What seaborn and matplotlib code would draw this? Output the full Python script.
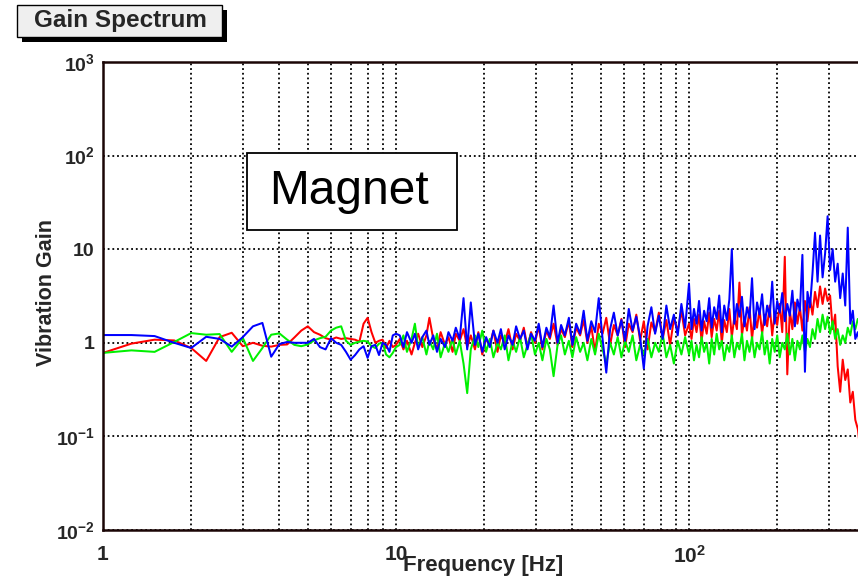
import matplotlib
matplotlib.use("Agg")
import matplotlib.pyplot as plt
import matplotlib.patches as mpatches
from matplotlib.ticker import FixedLocator, NullFormatter
import numpy as np
import pandas as pd
import seaborn as sns

# ---------------- data ----------------
freq_low = [1.0, 1.25, 1.5, 1.75, 2.0, 2.25, 2.5, 2.75, 3.0, 3.25, 3.5, 3.75, 4.0,
            4.25, 4.5, 4.75, 5.0, 5.25, 5.5, 5.75, 6.0, 6.25, 6.5, 6.75, 7.0, 7.25,
            7.5, 7.75, 8.0, 8.25, 8.5, 8.75, 9.0, 9.25, 9.5, 9.75, 10.0]
freq_mid = [10.3, 10.6, 10.9, 11.3, 11.6, 11.9, 12.3, 12.7, 13.0, 13.4,
            13.8, 14.2, 14.7, 15.1, 15.6, 16.0, 16.5, 17.0, 17.5, 18.0,
            18.6, 19.1, 19.7, 20.3, 20.9, 21.5, 22.2, 22.8, 23.5, 24.2,
            25.0, 25.7, 26.5, 27.3, 28.1, 28.9, 29.8, 30.7, 31.6, 32.6,
            33.5, 34.5, 35.6, 36.6, 37.7, 38.9, 40.0, 41.2, 42.5, 43.7,
            45.0, 46.4, 47.8, 49.2, 50.7, 52.2, 53.8, 55.4, 57.1, 58.8,
            60.5, 62.3, 64.2, 66.1, 68.1, 70.1, 72.2, 74.4, 76.6, 78.9,
            81.3, 83.7, 86.2, 88.8, 91.5, 94.2, 97.0]
freq_high = [100, 102, 104, 106.1, 108.2, 110.4, 112.6, 114.9, 117.2, 119.5,
             121.9, 124.3, 126.8, 129.4, 131.9, 134.6, 137.3, 140, 142.8, 145.7,
             148.6, 151.6, 154.6, 157.7, 160.9, 164.1, 167.4, 170.7, 174.1, 177.6,
             181.2, 184.8, 188.5, 192.3, 196.1, 200, 204, 208.1, 212.3, 216.5,
             220.8, 225.3, 229.8, 234.4, 239.1, 243.8, 248.7, 253.7, 258.7, 263.9,
             269.2, 274.6, 280.1, 285.7, 291.4, 297.2, 303.1, 309.2, 315.4, 321.7,
             328.1, 334.7, 341.4, 348.2, 355.2, 362.3, 369.5, 376.9, 384.5, 392.2]

red_low = [0.78, 0.98, 1.08, 1.06, 0.88, 0.64, 1.15, 1.28, 0.92, 1.00, 0.93, 0.91, 0.95,
           0.96, 1.14, 1.35, 1.50, 1.30, 1.22, 1.12, 1.08, 1.14, 1.10, 1.12, 1.10, 1.08,
           1.03, 1.60, 1.85, 1.30, 1.00, 1.05, 1.08, 0.88, 1.05, 0.90, 0.95]
red_mid = [1.10, 0.85, 1.05, 0.75, 1.00, 1.25, 0.90, 1.20, 1.85, 1.10,
           0.85, 1.30, 0.95, 1.15, 0.80, 1.25, 1.05, 1.40, 0.90, 1.20,
           0.85, 1.30, 0.75, 1.10, 0.95, 1.35, 0.80, 1.20, 1.00, 1.40,
           0.85, 1.25, 1.05, 1.45, 0.90, 1.30, 1.00, 1.50, 0.85, 1.35,
           1.10, 1.60, 0.95, 1.40, 1.15, 1.70, 0.90, 1.45, 1.20, 1.75,
           1.00, 1.50, 0.80, 1.60, 1.25, 1.85, 0.95, 1.55, 1.20, 1.80,
           0.90, 1.60, 1.30, 2.00, 1.05, 1.70, 0.85, 1.65, 1.30, 2.10,
           1.10, 1.75, 0.95, 1.80, 1.35, 2.20, 1.20]
red_high = [1.60, 1.10, 1.80, 1.30, 2.00, 1.05, 1.70, 1.25, 2.10, 1.15,
            1.80, 1.35, 2.20, 1.00, 1.75, 1.30, 2.30, 1.15, 1.90, 1.40,
            4.40, 1.20, 1.85, 1.35, 2.40, 1.10, 1.95, 1.45, 2.30, 1.25,
            2.00, 1.50, 2.50, 1.20, 2.10, 1.55, 2.60, 1.30, 8.30, 0.46,
            2.20, 1.40, 2.70, 1.60, 2.40, 1.35, 2.80, 1.70, 3.00, 2.00,
            3.50, 2.40, 4.00, 2.60, 3.80, 2.80, 3.20, 1.40, 2.00, 0.56,
            0.30, 0.66, 0.40, 0.52, 0.23, 0.30, 0.15, 0.12, 0.07, 0.05]

green_low = [0.78, 0.83, 0.80, 1.02, 1.27, 1.22, 1.24, 0.80, 1.13, 0.64, 0.88, 1.22, 1.26,
             1.08, 0.95, 0.92, 0.96, 1.06, 1.12, 1.16, 1.35, 1.45, 1.50, 1.05, 0.95, 1.00,
             1.03, 1.05, 1.03, 0.92, 0.88, 0.98, 1.00, 0.75, 0.70, 0.78, 0.90]
green_mid = [0.95, 1.20, 0.80, 1.10, 1.60, 0.90, 1.15, 0.75, 1.05, 0.85,
             1.25, 0.70, 1.00, 0.80, 1.10, 0.75, 1.05, 0.60, 0.29, 0.85,
             1.20, 0.90, 1.35, 0.80, 1.10, 0.70, 1.00, 0.85, 1.20, 0.65,
             1.05, 0.80, 1.15, 0.70, 0.95, 1.25, 0.75, 1.00, 0.65, 1.10,
             0.85, 0.44, 0.95, 1.20, 0.75, 1.05, 0.70, 1.15, 0.80, 1.00,
             0.65, 1.10, 0.75, 1.25, 0.85, 0.60, 1.00, 0.75, 1.15, 0.70,
             1.05, 0.80, 1.20, 0.65, 0.95, 0.75, 1.10, 0.70, 1.00, 0.80,
             1.25, 0.70, 0.95, 0.60, 1.05, 0.75, 1.15]
green_high = [0.75, 1.05, 0.65, 0.95, 0.70, 1.15, 0.80, 1.00, 0.60, 1.10,
              0.75, 1.25, 0.85, 1.05, 0.65, 0.95, 0.80, 1.20, 0.70, 1.00,
              0.85, 1.25, 0.65, 1.05, 0.80, 1.15, 0.70, 1.00, 0.85, 1.30,
              0.75, 1.05, 0.60, 1.10, 0.80, 1.20, 0.70, 1.00, 0.85, 1.25,
              0.75, 1.10, 0.65, 1.05, 0.85, 1.20, 0.80, 1.10, 0.90, 1.40,
              1.10, 1.80, 1.30, 2.00, 1.40, 1.90, 1.25, 1.70, 1.10, 1.40,
              0.95, 1.20, 1.00, 1.45, 1.20, 1.70, 1.40, 1.80, 1.50, 1.70]

blue_low = [1.21, 1.21, 1.18, 1.00, 0.88, 1.16, 1.10, 0.91, 1.15, 1.50, 1.63, 0.71, 0.97,
            1.02, 1.00, 1.00, 1.00, 1.10, 0.90, 0.85, 1.12, 1.00, 0.95, 0.80, 0.66, 0.74,
            0.85, 0.92, 0.69, 0.92, 0.95, 0.74, 1.00, 0.95, 0.80, 1.20, 1.25]
blue_mid = [1.20, 0.90, 1.30, 1.00, 1.25, 0.85, 1.15, 1.35, 0.95, 1.20,
            0.80, 1.10, 0.90, 1.30, 1.05, 1.45, 1.10, 3.00, 0.85, 2.70,
            0.95, 1.25, 0.80, 1.15, 0.90, 1.35, 1.00, 1.40, 0.85, 1.20,
            0.95, 1.50, 1.10, 1.35, 0.85, 1.25, 1.05, 1.60, 0.90, 1.45,
            1.15, 2.50, 1.00, 1.55, 1.20, 1.85, 0.95, 1.60, 1.25, 2.20,
            1.05, 1.70, 1.30, 3.00, 1.10, 0.48, 1.40, 2.10, 1.20, 1.75,
            1.05, 2.30, 1.35, 1.90, 1.15, 0.53, 1.50, 2.40, 1.25, 1.95,
            1.10, 2.50, 1.40, 2.00, 1.20, 2.60, 1.45]
blue_high = [4.30, 1.40, 2.30, 1.60, 2.80, 1.35, 2.20, 1.70, 3.00, 1.45,
             2.40, 1.80, 3.20, 1.30, 2.50, 1.75, 2.90, 10.0, 1.60, 2.60,
             1.90, 3.10, 1.50, 2.40, 1.85, 4.90, 1.40, 2.70, 2.00, 3.30,
             1.55, 2.50, 1.90, 4.50, 1.60, 2.80, 2.10, 3.40, 1.70, 2.60,
             1.95, 3.60, 1.50, 2.90, 2.20, 8.70, 0.49, 3.50, 2.40, 5.50,
             15.0, 4.50, 14.0, 5.00, 9.00, 22.5, 6.00, 10.0, 4.50, 7.00,
             3.00, 5.50, 2.50, 17.0, 1.60, 2.20, 1.10, 1.30, 0.85, 1.00]

channels = ["red", "green", "blue"]
line_colors = ["#ff0000", "#00f000", "#0000ff"]

x_ticks = [1, 10, 100]
x_tick_labels = ["1", "10", r"$10^{2}$"]
y_ticks = [0.01, 0.1, 1, 10, 100, 1000]
y_tick_labels = [r"$10^{-2}$", r"$10^{-1}$", "1", "10", r"$10^{2}$", r"$10^{3}$"]

title_text = "Gain Spectrum"
label_text = "Magnet"
x_label = "Frequency [Hz]"
y_label = "Vibration Gain"

# ---------------- table for seaborn ----------------
freqs = freq_low + freq_mid + freq_high
series = {
    "red": red_low + red_mid + red_high,
    "green": green_low + green_mid + green_high,
    "blue": blue_low + blue_mid + blue_high,
}
frames = []
for ch in channels:
    frames.append(pd.DataFrame({"Frequency": freqs, "Gain": series[ch], "Channel": ch}))
df = pd.concat(frames, ignore_index=True)

# ---------------- style ----------------
sns.set_style("white")
plt.rcParams["font.family"] = ["Liberation Sans", "DejaVu Sans"]
plt.rcParams["font.weight"] = "bold"
plt.rcParams["mathtext.fontset"] = "custom"
plt.rcParams["mathtext.rm"] = "Liberation Sans:bold"
plt.rcParams["mathtext.bf"] = "Liberation Sans:bold"
plt.rcParams["mathtext.it"] = "Liberation Sans:bold"
plt.rcParams["mathtext.default"] = "rm"

W, H = 858, 583
fig = plt.figure(figsize=(W / 100, H / 100), dpi=100)
fig.patch.set_facecolor("white")

# axes frame: left 103px, bottom 530px, top 62px; extends beyond right edge
ax = fig.add_axes([103 / W, (H - 530) / H, 879 / W, 468 / H])
ax.set_facecolor("white")

sns.lineplot(data=df, x="Frequency", y="Gain", hue="Channel",
             hue_order=channels, palette=dict(zip(channels, line_colors)),
             sort=False, estimator=None, linewidth=1.45, legend=False, ax=ax)

ax.set_xscale("log")
ax.set_yscale("log")
ax.set_xlim(1, 1000)
ax.set_ylim(0.01, 1000)

ax.xaxis.set_major_locator(FixedLocator(x_ticks))
ax.set_xticklabels(x_tick_labels)
ax.yaxis.set_major_locator(FixedLocator(y_ticks))
ax.set_yticklabels(y_tick_labels)
minor_vals = [m * d for d in [0.01, 0.1, 1, 10, 100] for m in range(2, 10)]
ax.xaxis.set_minor_locator(FixedLocator(minor_vals))
ax.yaxis.set_minor_locator(FixedLocator(minor_vals))
ax.xaxis.set_minor_formatter(NullFormatter())
ax.yaxis.set_minor_formatter(NullFormatter())

ax.tick_params(axis="both", which="both", direction="in", color="black", width=1.5)
ax.tick_params(axis="x", which="major", length=11, pad=11, labelsize=15)
ax.tick_params(axis="x", which="minor", length=7)
ax.tick_params(axis="y", which="major", length=11, pad=6, labelsize=14)
ax.tick_params(axis="y", which="minor", length=7)

grid_style = dict(color="black", linestyle=(0, (1, 1.6)), linewidth=1.3)
ax.grid(True, which="both", axis="x", **grid_style)
ax.grid(True, which="major", axis="y", **grid_style)
ax.grid(False, which="minor", axis="y")
ax.set_axisbelow(True)

for s in ["left", "bottom", "top", "right"]:
    ax.spines[s].set_color("#1a0505")
    ax.spines[s].set_linewidth(1.8)

ax.set_xlabel(x_label, fontsize=16, fontweight="bold")
ax.xaxis.set_label_coords((483 - 103) / 879, (530 - 555) / 468)
ax.set_ylabel(y_label, fontsize=15.5, fontweight="bold")
ax.yaxis.set_label_coords((46 - 103) / 879, (530 - 292) / 468)
ax.yaxis.label.set_verticalalignment("center")

# title box with shadow (ROOT style)
fig.patches.append(mpatches.Rectangle((22 / W, (H - 42) / H), 205 / W, 32 / H,
                                      transform=fig.transFigure, facecolor="black",
                                      edgecolor="none", zorder=5))
fig.patches.append(mpatches.Rectangle((17 / W, (H - 37) / H), 205 / W, 32 / H,
                                      transform=fig.transFigure, facecolor="#efefef",
                                      edgecolor="black", linewidth=1.0, zorder=6))
fig.text(120 / W, 1 - 21 / H, title_text, ha="center", va="center",
         fontsize=17.5, fontweight="bold", zorder=7)

# "Magnet" label box
fig.patches.append(mpatches.Rectangle((247 / W, (H - 230) / H), 210 / W, 77 / H,
                                      transform=fig.transFigure, facecolor="white",
                                      edgecolor="black", linewidth=1.3, zorder=6))
fig.text(349 / W, 1 - 192 / H, label_text, ha="center", va="center",
         fontsize=34.5, fontweight="normal", color="black", zorder=7)

fig.savefig("out.png", dpi=100)
